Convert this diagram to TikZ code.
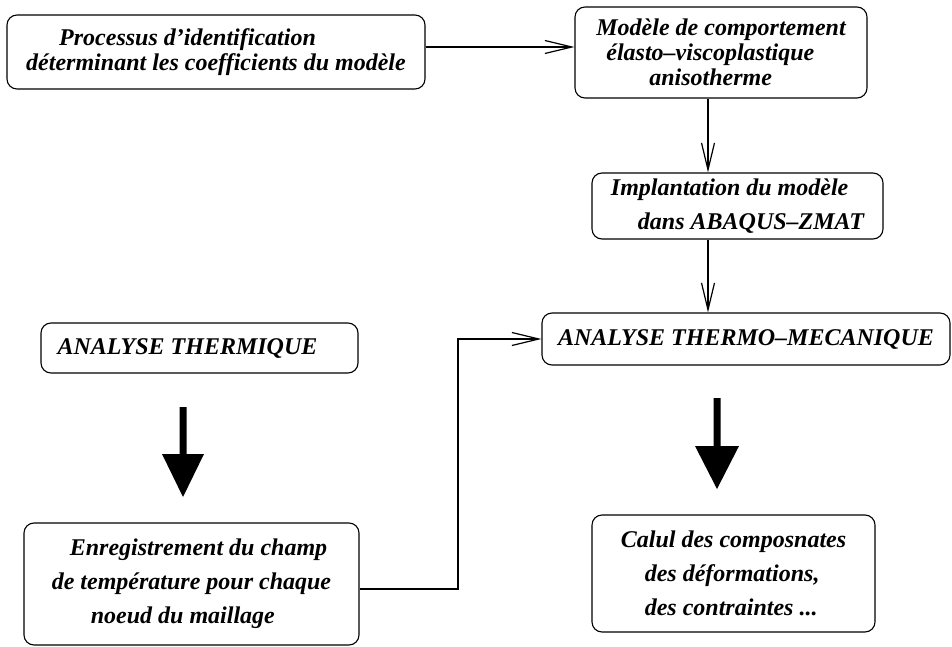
\documentclass[tikz,border=0pt]{standalone}
\usepackage{fontspec}
\setmainfont{Liberation Serif}
\usetikzlibrary{arrows.meta}
\tikzset{
  box/.style={draw, line width=1.1pt, rounded corners=10pt, inner sep=0pt, align=left},
  tight/.style={font=\fontsize{24}{25}\selectfont\bfseries\itshape},
  loose/.style={font=\fontsize{24}{34}\selectfont\bfseries\itshape},
  link/.style={line width=1.2pt, -{Straight Barb[length=27pt,width=13pt,line width=1.2pt]}},
  bigarrow/.style={fill=black}
}
\begin{document}
\begin{tikzpicture}[x=1pt,y=-1pt]
\useasboundingbox (0,0) rectangle (952,647);
\node[box,tight,minimum width=418pt,minimum height=74pt] (b1) at (216,52)
  {\hspace*{33pt}Processus d’identification\\déterminant les coefficients du modèle};
\node[box,tight,minimum width=292pt,minimum height=91pt] (b2) at (721,52.5)
  {Modèle de comportement\\\hspace*{10pt}élasto–viscoplastique\\\hspace*{53pt}anisotherme};
\node[box,loose,minimum width=291pt,minimum height=66pt] (b3) at (737.5,206)
  {Implantation du modèle\\\hspace*{27pt}dans ABAQUS–ZMAT};
\node[box,tight,minimum width=408pt,minimum height=52pt] (b4) at (746,339)
  {ANALYSE THERMO–MECANIQUE};
\node[box,tight,minimum width=317pt,minimum height=50pt] (bt) at (199.5,348)
  {ANALYSE THERMIQUE\hspace*{24pt}};
\node[box,loose,minimum width=335pt,minimum height=122pt] (b5) at (191.5,584)
  {\hspace*{18pt}Enregistrement du champ\\de température pour chaque\\\hspace*{39pt}noeud du maillage};
\node[box,loose,minimum width=283pt,minimum height=117pt] (b6) at (733.5,573.5)
  {Calul des composnates\\\hspace*{24pt}des déformations,\\\hspace*{24pt}des contraintes ...};
\coordinate (vx) at (708,0);
\draw[link] ([yshift=5pt]b1.east) -- ([yshift=5pt]b1.east -| b2.west);
\draw[link] (b2.south -| vx) -- (b3.north -| vx);
\draw[link] (b3.south -| vx) -- (b4.north -| vx);
\draw[link] ([yshift=-5pt]b5.east) -| (458,400) |- (b4.west);
\coordinate (t1) at (183,407);
\coordinate (t2) at (717,398);
\fill[bigarrow,shift={(t1)}] (-3.5,0) -- (3.5,0) -- (3.5,47) -- (21,47) -- (0,90) -- (-21,47) -- (-3.5,47) -- cycle;
\fill[bigarrow,shift={(t2)}] (-3.5,0) -- (3.5,0) -- (3.5,48) -- (22,48) -- (0,91) -- (-22,48) -- (-3.5,48) -- cycle;
\end{tikzpicture}
\end{document}
